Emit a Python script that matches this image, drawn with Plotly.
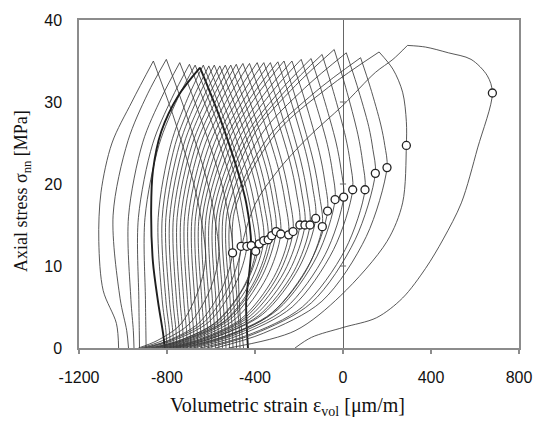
import plotly.graph_objects as go

# ---- loading legs: from zero stress, out to the reversal point, up to the peak ----
right_leg_x = [
    [-930, -845, -741, -662, -625, -644, -680, -774, -862],
    [-920, -821, -700, -608, -565, -584, -620, -715, -803],
    [-910, -796, -657, -551, -502, -521, -557, -653, -742],
    [-900, -778, -629, -515, -463, -482, -517, -611, -698],
    [-890, -763, -609, -491, -437, -456, -491, -585, -672],
    [-432, -440, -424, -417, -440, -471, -564, -650],
    [-880, -745, -581, -455, -397, -416, -452, -547, -635],
    [-870, -733, -567, -440, -381, -399, -434, -525, -610],
    [-860, -720, -550, -420, -360, -378, -412, -502, -585],
    [-850, -707, -534, -401, -340, -358, -391, -479, -560],
    [-840, -696, -520, -386, -324, -341, -373, -457, -535],
    [-830, -683, -504, -367, -304, -320, -351, -434, -510],
    [-820, -670, -487, -347, -283, -299, -329, -410, -485],
    [-810, -652, -461, -315, -247, -264, -295, -378, -455],
    [-800, -640, -445, -296, -227, -243, -273, -352, -425],
    [-790, -624, -422, -267, -196, -212, -241, -318, -390],
    [-780, -610, -404, -246, -173, -188, -216, -291, -360],
    [-770, -596, -386, -224, -150, -164, -191, -263, -330],
    [-760, -582, -366, -200, -124, -138, -164, -232, -296],
    [-750, -566, -343, -173, -94, -108, -134, -204, -268],
    [-735, -549, -323, -150, -70, -83, -107, -172, -232],
    [-720, -528, -296, -118, -36, -48, -71, -133, -190],
    [-700, -503, -264, -81, 3, -9, -31, -90, -145],
    [-680, -477, -231, -43, 44, 33, 12, -44, -95],
    [-650, -440, -185, 10, 100, 89, 68, 12, -40],
    [-620, -405, -144, 55, 147, 136, 117, 64, 15],
    [-580, -362, -96, 106, 200, 190, 172, 124, 80],
    [-520, -218, -10, 200, 271, 288, 288, 271, 227, 164],
    [-218, -143, 0, 153, 271, 375, 456, 538, 612, 679, 656, 582, 479, 375, 293],
]
right_leg_y = [
    [0, 0.9, 2.8, 6.7, 10.8, 15.6, 20.2, 28.5, 35.0],
    [0, 0.9, 2.9, 6.9, 11.2, 16.0, 20.6, 28.7, 35.2],
    [0, 0.9, 3.0, 7.2, 11.6, 16.2, 20.6, 28.5, 34.8],
    [0, 1.0, 3.2, 7.7, 12.4, 16.8, 21.1, 28.6, 34.6],
    [0, 1.0, 3.2, 7.7, 12.4, 16.8, 21.0, 28.5, 34.5],
    [0, 5.7, 9.7, 12.5, 17.7, 20.9, 28.4, 34.2],
    [0, 0.9, 3.1, 7.3, 11.8, 16.3, 20.7, 28.4, 34.5],
    [0, 1.0, 3.3, 7.9, 12.7, 17.0, 21.2, 28.5, 34.4],
    [0, 1.0, 3.4, 8.1, 13.1, 17.4, 21.4, 28.7, 34.5],
    [0, 1.1, 3.4, 8.2, 13.2, 17.4, 21.5, 28.7, 34.4],
    [0, 1.1, 3.6, 8.5, 13.7, 17.9, 21.8, 28.9, 34.5],
    [0, 1.1, 3.7, 8.8, 14.2, 18.3, 22.1, 29.0, 34.5],
    [0, 1.1, 3.6, 8.6, 13.9, 18.0, 22.0, 29.0, 34.6],
    [0, 1.1, 3.6, 8.6, 13.8, 18.0, 22.0, 29.1, 34.7],
    [0, 1.1, 3.7, 8.8, 14.2, 18.3, 22.2, 29.2, 34.7],
    [0, 1.2, 3.9, 9.3, 15.0, 19.0, 22.7, 29.5, 34.8],
    [0, 1.2, 3.9, 9.3, 15.0, 19.0, 22.7, 29.5, 34.8],
    [0, 1.2, 3.9, 9.3, 15.0, 19.0, 22.7, 29.5, 34.8],
    [0, 1.3, 4.1, 9.8, 15.8, 19.6, 23.3, 29.7, 34.9],
    [0, 1.2, 3.8, 9.2, 14.8, 18.8, 22.7, 29.5, 35.0],
    [0, 1.3, 4.3, 10.4, 16.7, 20.4, 23.8, 30.1, 35.0],
    [0, 1.4, 4.7, 11.2, 18.1, 21.5, 24.8, 30.6, 35.2],
    [0, 1.5, 4.8, 11.4, 18.4, 21.8, 25.0, 30.7, 35.3],
    [0, 1.5, 5.0, 12.0, 19.3, 22.6, 25.7, 31.3, 35.8],
    [0, 1.5, 5.0, 12.0, 19.3, 22.7, 26.0, 31.8, 36.4],
    [0, 1.7, 5.5, 13.2, 21.3, 24.2, 27.0, 32.0, 36.0],
    [0, 1.8, 5.7, 13.6, 22.0, 24.7, 27.2, 31.8, 35.4],
    [0, 2.1, 6.4, 13.0, 17.7, 24.7, 27.6, 31.2, 34.0, 36.1],
    [0, 1.3, 2.5, 3.7, 6.1, 9.7, 13.3, 17.7, 24.4, 31.1, 33.2, 35.2, 36.0, 36.7, 36.9],
]

# ---- post-peak legs: from the peak back down to zero stress ----
left_leg_x = [
    [-862, -960, -1050, -1100, -1110, -1090, -1030, -1020],
    [-803, -888, -977, -1045, -1013, -983, -975],
    [-742, -824, -910, -975, -964, -953, -950],
    [-698, -779, -865, -930, -928, -926, -925],
    [-672, -752, -836, -900, -898, -896, -895],
    [-650, -748, -826, -864, -872, -864, -841, -818, -810],
    [-635, -707, -783, -840, -822, -805, -800],
    [-610, -684, -763, -822, -805, -789, -785],
    [-585, -662, -743, -805, -789, -774, -770],
    [-560, -640, -724, -788, -773, -759, -755],
    [-535, -618, -705, -771, -757, -744, -740],
    [-510, -595, -686, -754, -741, -728, -724],
    [-485, -573, -666, -737, -724, -711, -708],
    [-455, -548, -646, -720, -707, -695, -692],
    [-425, -522, -625, -703, -691, -679, -676],
    [-390, -494, -603, -686, -674, -663, -660],
    [-360, -469, -583, -670, -658, -647, -644],
    [-330, -443, -563, -654, -642, -631, -628],
    [-296, -416, -542, -638, -626, -615, -612],
    [-268, -392, -523, -622, -610, -599, -596],
    [-232, -363, -501, -606, -594, -583, -580],
    [-190, -330, -478, -590, -578, -567, -564],
    [-145, -295, -454, -574, -562, -551, -548],
    [-95, -257, -428, -558, -546, -535, -532],
    [-40, -216, -401, -542, -530, -519, -516],
    [15, -174, -375, -526, -514, -503, -500],
    [80, -127, -345, -510, -498, -487, -484],
    [164, -66, -310, -494, -482, -471, -468],
    [293, 227, 147, 0, -162, -300, -400, -470, -470, -458, -452],
]
left_leg_y = [
    [35.0, 30.0, 25.0, 19.0, 13.0, 7.0, 3.0, 0],
    [35.2, 31.0, 25.3, 16.2, 6.0, 2.1, 0],
    [34.8, 30.6, 25.1, 16.0, 5.9, 2.1, 0],
    [34.6, 30.4, 24.9, 15.9, 5.9, 2.1, 0],
    [34.5, 30.4, 24.8, 15.9, 5.9, 2.1, 0],
    [34.2, 30.8, 26.4, 21.6, 16.9, 10.5, 5.7, 1.8, 0],
    [34.5, 30.4, 24.8, 15.9, 5.9, 2.1, 0],
    [34.4, 30.3, 24.8, 15.8, 5.8, 2.1, 0],
    [34.5, 30.4, 24.8, 15.9, 5.9, 2.1, 0],
    [34.4, 30.3, 24.8, 15.8, 5.8, 2.1, 0],
    [34.5, 30.4, 24.8, 15.9, 5.9, 2.1, 0],
    [34.5, 30.4, 24.8, 15.9, 5.9, 2.1, 0],
    [34.6, 30.4, 24.9, 15.9, 5.9, 2.1, 0],
    [34.7, 30.5, 25.0, 16.0, 5.9, 2.1, 0],
    [34.7, 30.5, 25.0, 16.0, 5.9, 2.1, 0],
    [34.8, 30.6, 25.1, 16.0, 5.9, 2.1, 0],
    [34.8, 30.6, 25.1, 16.0, 5.9, 2.1, 0],
    [34.8, 30.6, 25.1, 16.0, 5.9, 2.1, 0],
    [34.9, 30.7, 25.1, 16.1, 5.9, 2.1, 0],
    [35.0, 30.8, 25.2, 16.1, 6.0, 2.1, 0],
    [35.0, 30.8, 25.2, 16.1, 6.0, 2.1, 0],
    [35.2, 31.0, 25.3, 16.2, 6.0, 2.1, 0],
    [35.3, 31.1, 25.4, 16.2, 6.0, 2.1, 0],
    [35.8, 31.5, 25.8, 16.5, 6.1, 2.1, 0],
    [36.4, 32.0, 26.2, 16.7, 6.2, 2.2, 0],
    [36.0, 31.7, 25.9, 16.6, 6.1, 2.2, 0],
    [35.4, 31.2, 25.5, 16.3, 6.0, 2.1, 0],
    [36.1, 31.8, 26.0, 16.6, 6.1, 2.2, 0],
    [36.9, 35.2, 33.6, 29.6, 25.6, 21.5, 17.5, 11.0, 5.0, 1.5, 0],
]

# ---- open circles (reversal points of volumetric strain) ----
circle_x = [-502, -463, -437, -417, -397, -381, -360, -340, -324, -304, -283, -247,
            -227, -196, -173, -150, -124, -94, -70, -36, 3, 44, 100, 147, 200, 288, 679]
circle_y = [11.6, 12.4, 12.4, 12.5, 11.8, 12.7, 13.1, 13.2, 13.7, 14.2, 13.9, 13.8,
            14.2, 15.0, 15.0, 15.0, 15.8, 14.8, 16.7, 18.1, 18.4, 19.3, 19.3, 21.3, 22.0, 24.7, 31.1]

x_ticks = [-1200, -800, -400, 0, 400, 800]
y_ticks = [0, 10, 20, 30, 40]
thick_loop = 5

fig = go.Figure()
for i in range(len(right_leg_x)):
    w = 1.9 if i == thick_loop else 0.85
    c = "#1e1e1e" if i == thick_loop else "#3a3a3a"
    for xs, ys in ((right_leg_x[i], right_leg_y[i]), (left_leg_x[i], left_leg_y[i])):
        fig.add_trace(go.Scatter(
            x=xs, y=ys, mode="lines",
            line=dict(color=c, width=w, shape="spline", smoothing=0.9),
            hoverinfo="skip", showlegend=False))

fig.add_trace(go.Scatter(
    x=circle_x, y=circle_y, mode="markers",
    marker=dict(symbol="circle", size=8, color="white",
                line=dict(color="#222222", width=1.3)),
    hoverinfo="skip", showlegend=False))

tick_font = dict(family="Liberation Sans, Arial, sans-serif", size=16, color="#111111")
x_title_font = dict(family="Liberation Serif, Times New Roman, serif", size=20, color="#111111")
y_title_font = dict(family="Liberation Serif, Times New Roman, serif", size=18, color="#111111")

fig.update_layout(
    width=544, height=422,
    margin=dict(l=79, r=15, t=12, b=74),
    paper_bgcolor="white", plot_bgcolor="white",
    xaxis=dict(range=[-1200, 800], tickvals=x_ticks, ticktext=[str(v) for v in x_ticks],
               showgrid=False, zeroline=True, zerolinecolor="#666666", zerolinewidth=1,
               showline=True, linecolor="#8c8c8c", linewidth=1.5, mirror=True,
               ticks="outside", ticklen=4, tickcolor="#8c8c8c", tickwidth=1.5,
               tickfont=tick_font, ticklabelstandoff=10),
    yaxis=dict(range=[0, 40], tickvals=y_ticks, ticktext=[str(v) for v in y_ticks],
               showgrid=False, zeroline=False,
               showline=True, linecolor="#8c8c8c", linewidth=1.5, mirror=True,
               ticks="", tickfont=tick_font, ticklabelstandoff=12),
    annotations=[
        dict(text="Volumetric strain ε<sub>vol</sub> [μm/m]", xref="paper", yref="paper",
             x=0.473, y=-0.179, xanchor="center", yanchor="middle", showarrow=False,
             font=x_title_font),
        dict(text="Axial stress σ<sub>nn</sub> [MPa]", xref="paper", yref="paper",
             x=-0.127, y=0.479, xanchor="center", yanchor="middle", showarrow=False,
             textangle=-90, font=y_title_font),
    ],
    shapes=[dict(type="line", xref="x", yref="y", x0=-14, x1=14, y0=v, y1=v,
                 line=dict(color="#666666", width=1)) for v in (10, 20, 30)],
)

fig.write_html("out.html")
